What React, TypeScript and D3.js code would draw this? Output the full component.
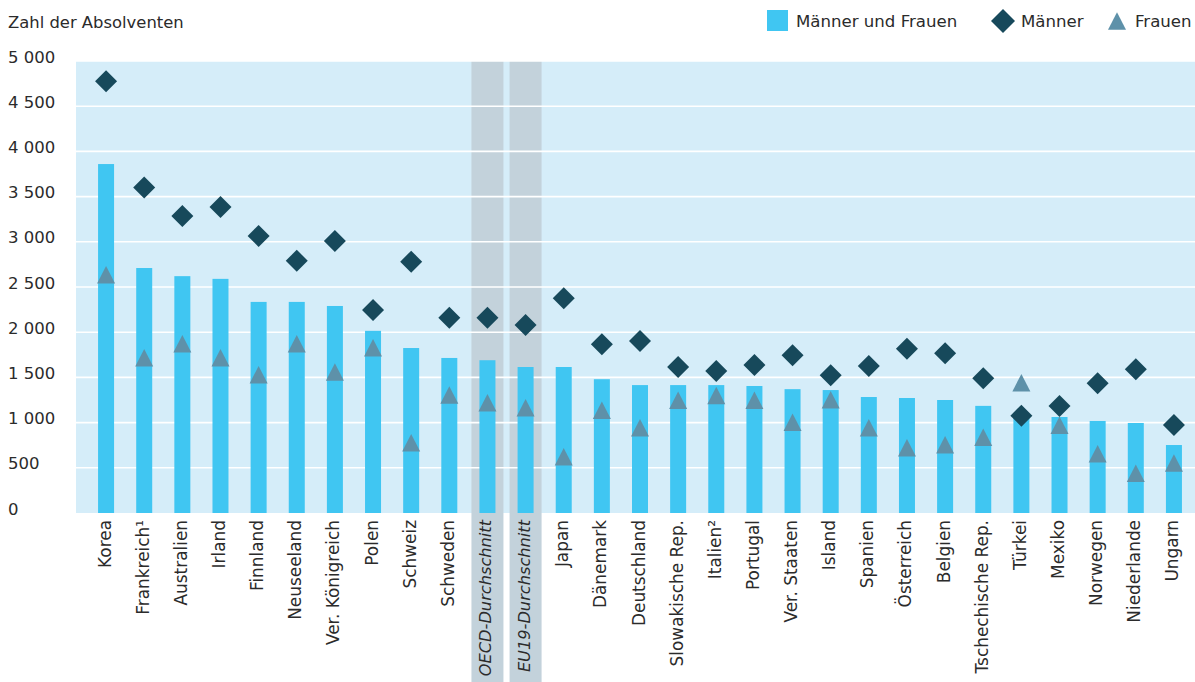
import React from "react";
import * as d3 from "d3";

const categories = [
  "Korea", "Frankreich¹", "Australien", "Irland", "Finnland", "Neuseeland",
  "Ver. Königreich", "Polen", "Schweiz", "Schweden", "OECD-Durchschnitt",
  "EU19-Durchschnitt", "Japan", "Dänemark", "Deutschland", "Slowakische Rep.",
  "Italien²", "Portugal", "Ver. Staaten", "Island", "Spanien", "Österreich",
  "Belgien", "Tschechische Rep.", "Türkei", "Mexiko", "Norwegen",
  "Niederlande", "Ungarn",
];

const total = [
  3860, 2710, 2620, 2590, 2335, 2335, 2290, 2015, 1825, 1715, 1690,
  1615, 1615, 1480, 1415, 1415, 1415, 1405, 1370, 1360, 1283, 1272,
  1250, 1185, 1066, 1062, 1018, 996, 752,
];

const men = [
  4775, 3600, 3285, 3385, 3065, 2790, 3010, 2245, 2780, 2160, 2160,
  2080, 2375, 1866, 1903, 1615, 1570, 1637, 1745, 1523, 1626, 1818,
  1766, 1490, 1077, 1184, 1435, 1590, 973,
];

const women = [
  2635, 1718, 1873, 1718, 1530, 1873, 1560, 1829, 778, 1305, 1220,
  1165, 623, 1136, 944, 1246, 1300, 1246, 1003, 1254, 944, 723,
  756, 837, 1442, 970, 656, 439, 553,
];

const averages = ["OECD-Durchschnitt", "EU19-Durchschnitt"];
const yTicks = [0, 500, 1000, 1500, 2000, 2500, 3000, 3500, 4000, 4500, 5000];

const W = 1195;
const H = 682;
const FONT = "'DejaVu Sans', Verdana, sans-serif";
const TEXT = "#2b2b2b";
const BG = "#d5edf9";
const BAR = "#40c6f2";
const MEN = "#17495b";
const WOMEN = "#5e91a9";
const GREY = "#c3d2db";

const fmt = (v: number) => (v === 0 ? "0" : d3.format(",")(v).replace(/,/g, " "));

const diamond = (r: number) => `M0,${-r}L${r},0L0,${r}L${-r},0Z`;
const triangle = (w: number, h: number) =>
  `M0,${-h / 2}L${w / 2},${h / 2}L${-w / 2},${h / 2}Z`;

export default function App() {
  const plotLeft = 76;
  const plotRight = W;
  const plotTop = 61;
  const plotBottom = 513;

  const x = d3.scaleBand<string>().domain(categories).range([87, 1193]).padding(0);
  const y = d3.scaleLinear().domain([0, 5000]).range([plotBottom, plotTop]);
  const bw = 16;
  const cx = (c: string) => (x(c) as number) + x.bandwidth() / 2;

  return (
    <svg
      width={W}
      height={H}
      style={{ position: "absolute", left: 0, top: 0, background: "#fff" }}
      fontFamily={FONT}
    >
      <rect x={plotLeft} y={plotTop} width={plotRight - plotLeft} height={plotBottom - plotTop} fill={BG} />
      {averages.map((c) => (
        <rect key={c} x={cx(c) - 16} y={plotTop} width={32} height={H - plotTop} fill={GREY} />
      ))}
      {yTicks.slice(1).map((t) => (
        <line key={t} x1={plotLeft} x2={plotRight} y1={y(t)} y2={y(t)} stroke="#fff" strokeWidth={1.6} />
      ))}
      {yTicks.map((t) => (
        <text key={t} x={8} y={y(t) - 3} dominantBaseline="middle" fontSize={16.5} fill={TEXT}>
          {fmt(t)}
        </text>
      ))}
      <text x={8} y={28} fontSize={16.4} fill={TEXT}>Zahl der Absolventen</text>

      {categories.map((c, i) => (
        <rect key={c} x={cx(c) - bw / 2} y={y(total[i])} width={bw} height={plotBottom - y(total[i])} fill={BAR} />
      ))}
      {categories.map((c, i) => (
        <path key={c} d={triangle(18, 17.5)} transform={`translate(${cx(c)},${y(women[i])})`} fill={WOMEN} />
      ))}
      {categories.map((c, i) => (
        <path key={c} d={diamond(11)} transform={`translate(${cx(c)},${y(men[i])})`} fill={MEN} />
      ))}
      {categories.map((c) => {
        const avg = averages.includes(c);
        return (
          <text
            key={c}
            transform={`translate(${cx(c) - 1.5},520) rotate(-90)`}
            textAnchor="end"
            dominantBaseline="central"
            fontSize={avg ? 16.2 : 16.9}
            fontStyle={avg ? "italic" : "normal"}
            fill={TEXT}
          >
            {c}
          </text>
        );
      })}

      <g>
        <rect x={767} y={10} width={21} height={21} fill={BAR} />
        <text x={796} y={21} dominantBaseline="central" fontSize={16.6} fill={TEXT}>Männer und Frauen</text>
        <path d={diamond(12)} transform="translate(1003,21)" fill={MEN} />
        <text x={1021} y={21} dominantBaseline="central" fontSize={16.6} fill={TEXT}>Männer</text>
        <path d={triangle(18, 17.5)} transform="translate(1117,21)" fill={WOMEN} />
        <text x={1135} y={21} dominantBaseline="central" fontSize={16.6} fill={TEXT}>Frauen</text>
      </g>
    </svg>
  );
}
